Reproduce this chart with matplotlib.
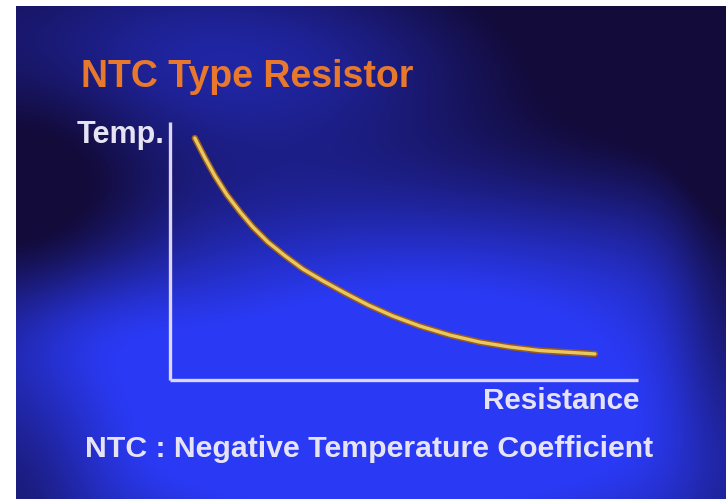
import matplotlib

matplotlib.use("Agg")

import matplotlib.pyplot as plt
import numpy as np

# 曲线读数（横轴 Resistance 0-100，纵轴 Temp. 0-100）
resistance = [5.3, 7.5, 9.6, 12.2, 15.0, 17.7, 20.9, 24.6, 28.4, 32.7,
              37.4, 42.3, 47.6, 53.4, 59.8, 66.2, 72.6, 79.1, 85.5, 90.8]
temperature = [93.8, 86.0, 79.1, 71.7, 65.1, 59.3, 53.5, 48.1, 43.0, 38.4,
               33.7, 29.1, 24.8, 20.9, 17.4, 14.7, 12.8, 11.4, 10.7, 10.1]

title = "NTC Type Resistor"
y_label = "Temp."
x_label = "Resistance"
caption = "NTC : Negative Temperature Coefficient"

W, H = 726, 499
FONT = ["Liberation Sans", "DejaVu Sans"]


def _background(w: int, h: int) -> np.ndarray:
    """幻灯片式蓝色渐变背景（像素坐标，原点左上）。"""
    yy, xx = np.mgrid[0:h, 0:w].astype(float)

    def blob(cx, cy, sx, sy, amp, rot=0.0):
        c, s = np.cos(rot), np.sin(rot)
        dx, dy = xx - cx, yy - cy
        u = c * dx + s * dy
        v = -s * dx + c * dy
        return amp * np.exp(-0.5 * ((u / sx) ** 2 + (v / sy) ** 2))

    inten = (
        blob(440, 300, 330, 110, 1.0, -0.08)
        + blob(230, 50, 260, 70, 0.6)
        + blob(380, 470, 420, 90, 0.85)
        + blob(60, 320, 80, 50, 0.35)
        - blob(620, 60, 200, 140, 0.5)
        - blob(20, 200, 80, 110, 0.4)
        - blob(0, 470, 60, 60, 0.35)
        - blob(715, 300, 40, 150, 0.45)
    )
    inten = np.clip(inten, 0, 1)
    dark = np.array([0x13, 0x0b, 0x3a]) / 255
    bright = np.array([0x2a, 0x3a, 0xf4]) / 255
    img = dark[None, None, :] + inten[..., None] * (bright - dark)[None, None, :]
    return np.clip(img, 0, 1)


def main() -> None:
    fig = plt.figure(figsize=(W / 100, H / 100), dpi=100)
    fig.patch.set_facecolor("white")

    # 背景层（左侧 16px、顶部 6px 留白）
    left, top = 16, 6
    bg = fig.add_axes([left / W, 0, (W - left) / W, (H - top) / H])
    bg.imshow(_background(W - left, H - top), aspect="auto", interpolation="bilinear")
    bg.set_axis_off()

    # 文字
    text_kw = dict(fontweight="bold", family=FONT, va="baseline", ha="left")
    fig.text(81 / W, 1 - 87 / H, title, color="#e8782c", fontsize=27, **text_kw)
    fig.text(77 / W, 1 - 143 / H, y_label, color="#e6e4f4", fontsize=22, **text_kw)
    fig.text(483 / W, 1 - 409 / H, x_label, color="#e6e4f4", fontsize=21.3, **text_kw)
    fig.text(85 / W, 1 - 457 / H, caption, color="#e6e4f4", fontsize=21.8, **text_kw)

    # 坐标系：竖线 x=170，横线 y=380，顶端 y=122，右端 x=638
    x0, x1, y0, y1 = 170, 638, 380, 122
    ax = fig.add_axes([x0 / W, 1 - y0 / H, (x1 - x0) / W, (y0 - y1) / H])
    ax.patch.set_alpha(0)
    ax.set_xlim(0, 100)
    ax.set_ylim(0, 100)
    for side in ("top", "right"):
        ax.spines[side].set_visible(False)
    for side in ("left", "bottom"):
        ax.spines[side].set_color("#dcd6f4")
        ax.spines[side].set_linewidth(2.4)
        ax.spines[side].set_capstyle("butt")
    ax.set_xticks([])
    ax.set_yticks([])

    ax.plot(resistance, temperature, color="#9a5a1e", linewidth=4.6,
            solid_capstyle="round", solid_joinstyle="round", clip_on=False)
    ax.plot(resistance, temperature, color="#e8c860", linewidth=2.4,
            solid_capstyle="round", solid_joinstyle="round", clip_on=False)

    fig.savefig("out.png", dpi=100, facecolor=fig.get_facecolor())
    plt.close(fig)


if __name__ == "__main__":
    main()
